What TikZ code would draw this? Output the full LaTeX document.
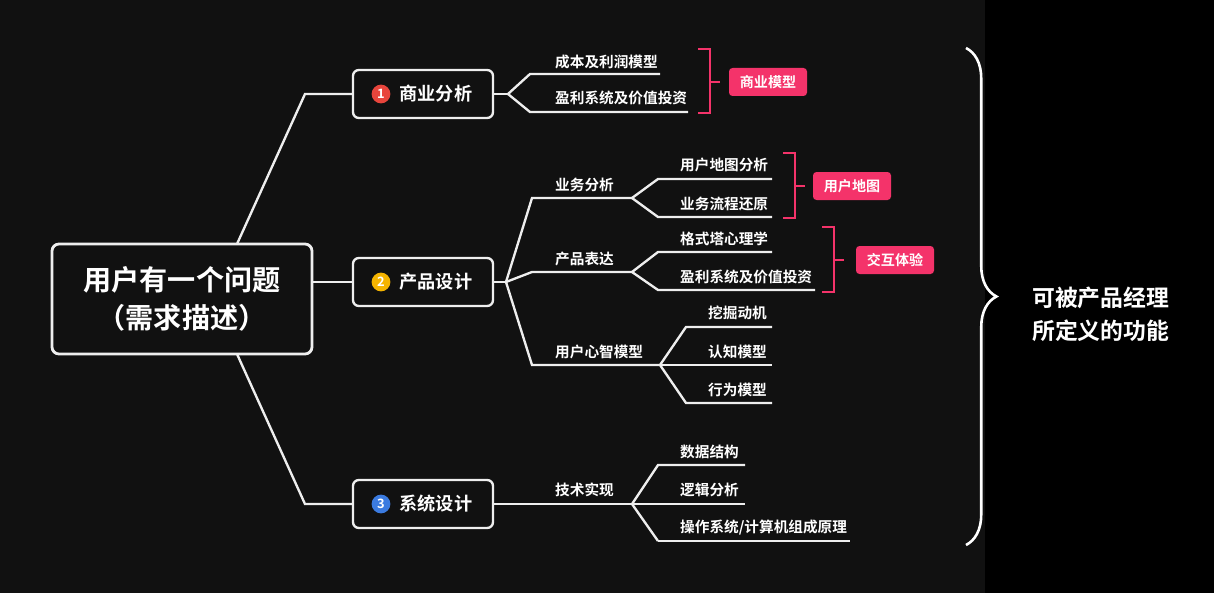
\documentclass[tikz,border=0pt]{standalone}
\usepackage{fontspec}
\newfontfamily\cjk{Noto Sans CJK SC}[BoldFont={Noto Sans CJK SC Bold}]
\usetikzlibrary{positioning,decorations.pathreplacing}
\definecolor{bgdark}{HTML}{111111}
\definecolor{tagred}{HTML}{F4336A}
\definecolor{numred}{HTML}{E8453C}
\definecolor{numyellow}{HTML}{F5B400}
\definecolor{numblue}{HTML}{3B7BE0}
\definecolor{linewhite}{HTML}{EEEEEE}
\begin{document}
\begin{tikzpicture}[x=0.03cm,y=-0.03cm,
  font=\cjk\bfseries,
  rootbox/.style={draw=linewhite, line width=2.4pt, rounded corners=6pt, minimum width=260*0.03cm, minimum height=110*0.03cm, text=white, font=\cjk\bfseries\fontsize{24}{32}\selectfont, align=center},
  branchbox/.style={draw=linewhite, line width=2pt, rounded corners=5pt, minimum width=140*0.03cm, minimum height=48*0.03cm, text=white, font=\cjk\bfseries\fontsize{15.5}{17}\selectfont},
  num/.style={circle, fill=#1, text=white, inner sep=0pt, minimum size=16pt, font=\cjk\bfseries\fontsize{11}{11}\selectfont},
  leaf/.style={text=white, anchor=base west, inner sep=0pt, font=\cjk\bfseries\fontsize{12.5}{14}\selectfont},
  tag/.style={fill=tagred, rounded corners=3pt, text=white, minimum width=78*0.03cm, minimum height=28*0.03cm, inner sep=0pt, font=\cjk\bfseries\fontsize{12}{14}\selectfont},
  conn/.style={draw=linewhite, line width=2pt},
  bracket/.style={draw=tagred, line width=1.6pt},
]
\fill[bgdark] (0,0) rectangle (985,593);
\fill[black] (985,0) rectangle (1214,593);
\useasboundingbox (0,0) rectangle (1214,593);

% root and main branches
\node[rootbox] (root) at (182,299) {用户有一个问题\\（需求描述）};
\node[branchbox] (biz) at (423,94) {\hspace{22pt}商业分析};
\node[branchbox] (prod) at (423,282) {\hspace{22pt}产品设计};
\node[branchbox] (sys) at (423,504) {\hspace{22pt}系统设计};
\node[num=numred] (n1) at (381,94) {1};
\node[num=numyellow] (n2) at (381,282) {2};
\node[num=numblue] (n3) at (381,504) {3};

\draw[conn] (237,244) -- (305,94) -- (biz.west);
\draw[conn] (root.east |- prod.west) -- (prod.west);
\draw[conn] (237,354) -- (305,504) -- (sys.west);

% 商业分析
\coordinate (f1) at (508,94);
\draw[conn] (biz.east) -- (f1);
\node[leaf] (cost) at (555,68) {成本及利润模型};
\node[leaf] (profit) at (555,104) {盈利系统及价值投资};
\draw[conn] (f1) -- (530,74) -- (660,74);
\draw[conn] (f1) -- (530,112) -- (688,112);

% 产品设计
\coordinate (f2) at (506,282);
\draw[conn] (prod.east) -- (f2);
\node[leaf] (yewu) at (555,190) {业务分析};
\node[leaf] (biaoda) at (555,264) {产品表达};
\node[leaf] (xinzhi) at (555,357) {用户心智模型};
\coordinate (f21) at (632,198);
\coordinate (f22) at (632,272);
\coordinate (f23) at (660,365);
\draw[conn] (f2) -- (532,198) -- (f21);
\draw[conn] (f2) -- (532,272) -- (f22);
\draw[conn] (f2) -- (532,365) -- (f23);

\node[leaf] (ditu) at (680,170) {用户地图分析};
\node[leaf] (liucheng) at (680,209) {业务流程还原};
\draw[conn] (f21) -- (658,179) -- (772,179);
\draw[conn] (f21) -- (658,217) -- (772,217);

\node[leaf] (gestalt) at (680,244) {格式塔心理学};
\node[leaf] (profit2) at (680,282) {盈利系统及价值投资};
\draw[conn] (f22) -- (658,252) -- (772,252);
\draw[conn] (f22) -- (658,290) -- (815,290);

\node[leaf] (dongji) at (708,318) {挖掘动机};
\node[leaf] (renzhi) at (708,357) {认知模型};
\node[leaf] (xingwei) at (708,395) {行为模型};
\draw[conn] (f23) -- (686,327) -- (772,327);
\draw[conn] (f23) -- (686,365) -- (772,365);
\draw[conn] (f23) -- (686,403) -- (772,403);

% 系统设计
\coordinate (f3) at (632,504);
\node[leaf] (jishu) at (555,495) {技术实现};
\draw[conn] (sys.east) -- (f3);
\node[leaf] (shuju) at (680,457) {数据结构};
\node[leaf] (luoji) at (680,495) {逻辑分析};
\node[leaf] (caozuo) at (680,532) {操作系统/计算机组成原理};
\draw[conn] (f3) -- (658,465) -- (745,465);
\draw[conn] (f3) -- (658,541);
\draw[conn] (f3) -- (745,504);
\draw[conn] (658,541) -- (850,541);

% brackets and tags
\node[tag] (t1) at (768,82) {商业模型};
\node[tag] (t2) at (852,186) {用户地图};
\node[tag] (t3) at (895,260) {交互体验};
\draw[bracket] (698,49) -- (710,49) -- (710,113) -- (698,113);
\draw[bracket] (710,82) -- (720,82);
\draw[bracket] (783,153) -- (795,153) -- (795,218) -- (783,218);
\draw[bracket] (795,186) -- (805,186);
\draw[bracket] (822,227) -- (834,227) -- (834,292) -- (822,292);
\draw[bracket] (834,260) -- (844,260);

% brace and summary
\coordinate (btop) at (966,48);
\coordinate (bbot) at (966,545);
\draw[white, line width=2.2pt, decorate, decoration={brace, amplitude=26pt}] (btop) -- (bbot);
\node[text=white, align=left, anchor=west, font=\cjk\bfseries\fontsize{19.5}{28}\selectfont] (summary) at (1028,314) {可被产品经理\\所定义的功能};
\end{tikzpicture}
\end{document}
